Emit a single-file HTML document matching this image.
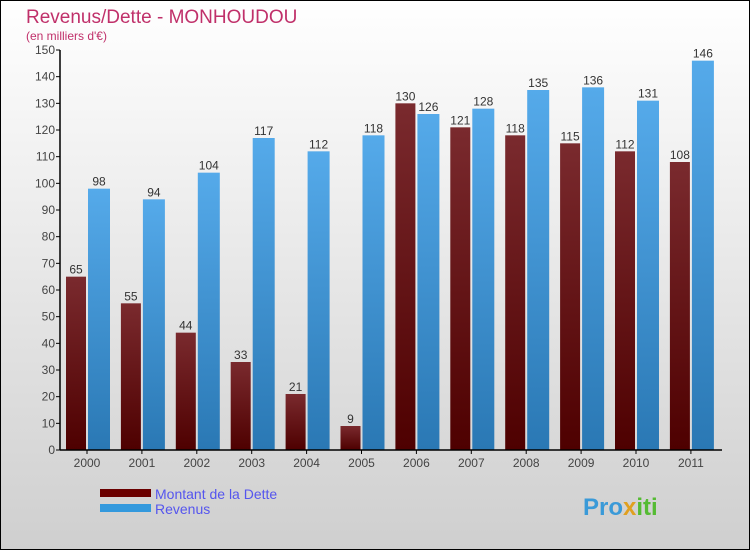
<!DOCTYPE html>
<html><head><meta charset="utf-8"><style>
body{margin:0}
svg{display:block;font-family:"Liberation Sans",sans-serif}
</style></head><body>
<svg width="750" height="550" viewBox="0 0 750 550" xmlns="http://www.w3.org/2000/svg">
<defs>
<linearGradient id="bg" x1="0" y1="0" x2="0" y2="1"><stop offset="0" stop-color="#ffffff"/><stop offset="1" stop-color="#cfcfcf"/></linearGradient>
<linearGradient id="gd" x1="0" y1="0" x2="0" y2="1"><stop offset="0" stop-color="#7a2a2e"/><stop offset="1" stop-color="#4e0000"/></linearGradient>
<linearGradient id="gr" x1="0" y1="0" x2="0" y2="1"><stop offset="0" stop-color="#55aaea"/><stop offset="1" stop-color="#2a78b4"/></linearGradient>
</defs>
<rect x="0.5" y="0.5" width="749" height="549" fill="url(#bg)" stroke="#000"/>
<text x="26" y="23" font-size="19" fill="#c0306a">Revenus/Dette - MONHOUDOU</text>
<text x="26" y="40" font-size="12" fill="#c0306a">(en milliers d'€)</text>
<g id="plot"></g>
<g>
<rect x="100" y="489" width="51" height="8" fill="#6a0000"/>
<text x="155" y="499" font-size="14" fill="#5555ee">Montant de la Dette</text>
<rect x="100" y="504" width="51" height="8" fill="#3399dd"/>
<text x="155" y="514" font-size="14" fill="#5555ee">Revenus</text>
</g>
<text x="583" y="515" font-size="24" font-weight="bold" fill="#3a9ad8">Pro<tspan fill="#e0a020">x</tspan><tspan fill="#55bb33">iti</tspan></text>
</svg>
<script>
const years=["2000","2001","2002","2003","2004","2005","2006","2007","2008","2009","2010","2011"];
const dette=[65,55,44,33,21,9,130,121,118,115,112,108];
const revenus=[98,94,104,117,112,118,126,128,135,136,131,146];
const yTicks=[0,10,20,30,40,50,60,70,80,90,100,110,120,130,140,150];
const NS="http://www.w3.org/2000/svg";
const g=document.getElementById('plot');
const y0=450,yTop=50,yMax=150,axX=60;
const yS=v=>y0-(v/yMax)*(y0-yTop);
const xC=i=>87+i*54.9;
function mk(t,a,txt){const e=document.createElementNS(NS,t);for(const k in a)e.setAttribute(k,a[k]);if(txt!==undefined)e.textContent=txt;g.appendChild(e);return e;}
yTicks.forEach(v=>{
 const l=mk('line',{x1:axX-4,x2:axX,y1:yS(v),y2:yS(v),stroke:'#000'});
 
 
 const t=mk('text',{x:axX-5,y:yS(v)+4,'font-size':12,fill:'#444','text-anchor':'end'},v);
 
 
});
years.forEach((yr,i)=>{
 const c=xC(i);
 const b1=mk('rect',{x:c-21,y:yS(dette[i]),width:20,height:y0-yS(dette[i]),fill:'url(#gd)'});
 
 
 const b2=mk('rect',{x:c+1,y:yS(revenus[i]),width:22,height:y0-yS(revenus[i]),fill:'url(#gr)'});
 
 
 const t1=mk('text',{x:c-11,y:yS(dette[i])-3,'font-size':12,fill:'#333','text-anchor':'middle'},dette[i]);
 
 
 const t2=mk('text',{x:c+12,y:yS(revenus[i])-3,'font-size':12,fill:'#333','text-anchor':'middle'},revenus[i]);
 
 
 const tk=mk('line',{x1:c,x2:c,y1:y0,y2:y0+4,stroke:'#000'});
 
 
 const xl=mk('text',{x:c,y:y0+17,'font-size':12,fill:'#444','text-anchor':'middle'},yr);
 
 
});
const ya=mk('line',{x1:axX,x2:axX,y1:yTop,y2:y0,stroke:'#000','stroke-width':1.5});


const xa=mk('line',{x1:axX,x2:722,y1:y0,y2:y0,stroke:'#000','stroke-width':1.5});


</script>
</body></html>
